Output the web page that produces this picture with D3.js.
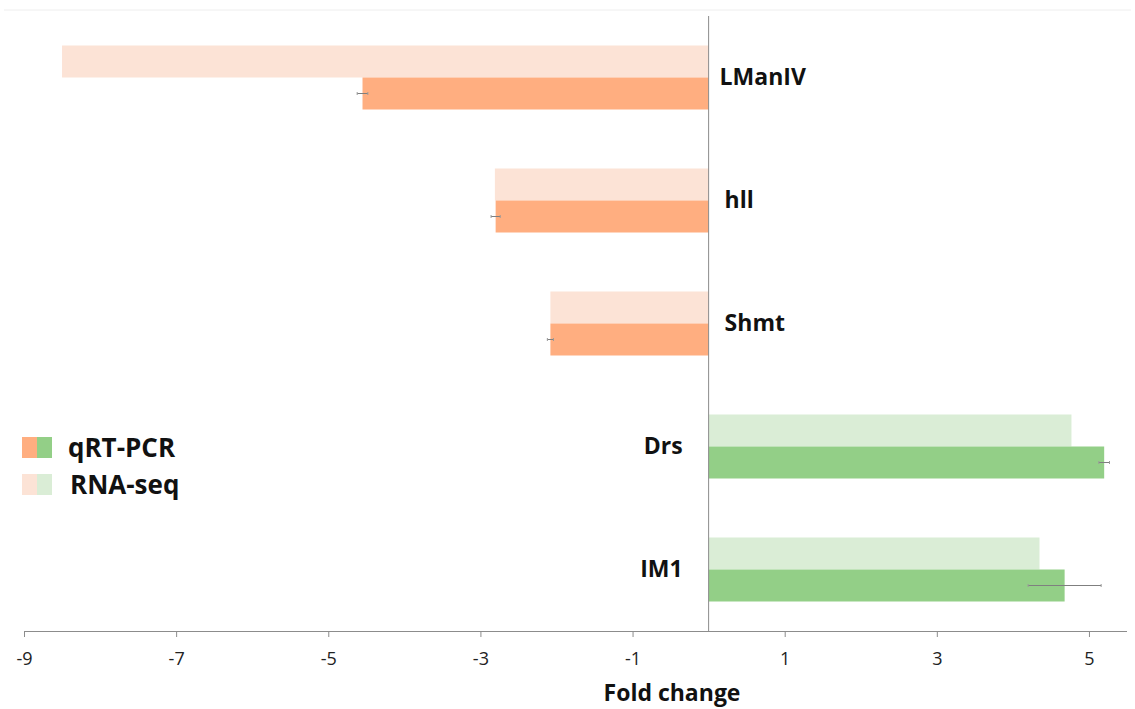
<!DOCTYPE html>
<html>
<head>
<meta charset="utf-8">
<script src="https://cdn.jsdelivr.net/npm/d3@7"></script>
<style>
  html, body { margin: 0; padding: 0; background: #fff; }
  svg { display: block; }
  text { font-family: "Open Sans", "Liberation Sans", sans-serif; }
</style>
</head>
<body>
<svg id="chart" width="1135" height="709"></svg>
<script>
// Genes, top to bottom
const genes = ["LManIV", "hll", "Shmt", "Drs", "IM1"];
// Fold change from RNA-seq
const rnaSeq = [-8.5, -2.81, -2.08, 4.77, 4.35];
// Fold change from qRT-PCR and its error
const qrtPcr = [-4.55, -2.8, -2.08, 5.2, 4.68];
const qrtErr = [0.07, 0.06, 0.04, 0.07, 0.48];
// Axis ticks
const tickValues = [-9, -7, -5, -3, -1, 1, 3, 5];

const colors = {
  downQ: "#FFAE80", downR: "#FCE3D6",
  upQ: "#93CF87", upR: "#DAEDD6"
};

const svg = d3.select("#chart");
const margin = { top: 16, right: 8, bottom: 78, left: 24 };
const W = 1135, H = 709;

const x = d3.scaleLinear().domain([-9, 5.5]).range([margin.left, W - margin.right]);
const y = d3.scaleBand().domain(genes).range([margin.top, H - margin.bottom]).paddingInner(0).paddingOuter(0);
const barH = 32;

// faint frame line at the top
svg.append("line").attr("x1", 4).attr("x2", 1131).attr("y1", 10).attr("y2", 10)
  .attr("stroke", "#eeeeee").attr("stroke-width", 1);

const rows = genes.map((g, i) => ({ g, r: rnaSeq[i], q: qrtPcr[i], e: qrtErr[i] }));

const grp = svg.append("g");
rows.forEach(d => {
  const cy = y(d.g) + y.bandwidth() / 2;
  const up = d.q > 0;
  grp.append("rect")
    .attr("x", Math.min(x(0), x(d.r))).attr("width", Math.abs(x(d.r) - x(0)))
    .attr("y", cy - barH).attr("height", barH)
    .attr("fill", up ? colors.upR : colors.downR);
  grp.append("rect")
    .attr("x", Math.min(x(0), x(d.q))).attr("width", Math.abs(x(d.q) - x(0)))
    .attr("y", cy).attr("height", barH)
    .attr("fill", up ? colors.upQ : colors.downQ);
  // error bar
  const ey = cy + barH / 2;
  grp.append("line")
    .attr("x1", x(d.q - d.e)).attr("x2", x(d.q + d.e))
    .attr("y1", ey).attr("y2", ey)
    .attr("stroke", "#7f7f7f").attr("stroke-width", 1);
  [d.q - d.e, d.q + d.e].forEach(v => {
    grp.append("line")
      .attr("x1", x(v)).attr("x2", x(v))
      .attr("y1", ey - 1.5).attr("y2", ey + 1.5)
      .attr("stroke", "#9a9a9a").attr("stroke-width", 1);
  });
  // gene label on the opposite side of the axis
  grp.append("text")
    .attr("x", up ? x(0) - 26 : x(0) + (d.g === "LManIV" ? 11 : 16))
    .attr("y", cy - 1)
    .attr("dy", "0.36em")
    .attr("text-anchor", up ? "end" : "start")
    .attr("font-size", 23).attr("font-weight", "bold")
    .attr("fill", "#111")
    .text(d.g);
});

// vertical zero line
svg.append("line")
  .attr("x1", x(0)).attr("x2", x(0))
  .attr("y1", margin.top).attr("y2", H - margin.bottom)
  .attr("stroke", "#8c8c8c").attr("stroke-width", 1);

// x axis
const axis = svg.append("g")
  .attr("transform", `translate(0,${H - margin.bottom})`)
  .call(d3.axisBottom(x).tickValues(tickValues).tickSize(6).tickPadding(15).tickFormat(d3.format("d")));
axis.select(".domain").attr("stroke", "#8c8c8c").attr("d", `M${margin.left},0.5H${W - margin.right}`);
axis.selectAll(".tick line").attr("stroke", "#8c8c8c");
axis.selectAll(".tick text")
  .attr("font-size", 18).attr("fill", "#222")
  .text(d => d < 0 ? "-" + Math.abs(d) : d);

svg.append("text")
  .attr("x", 672).attr("y", 701)
  .attr("text-anchor", "middle")
  .attr("font-size", 23).attr("font-weight", "bold").attr("fill", "#111")
  .text("Fold change");

// legend
const legend = [
  { label: "qRT-PCR", a: colors.downQ, b: colors.upQ, y: 437 },
  { label: "RNA-seq", a: colors.downR, b: colors.upR, y: 474 }
];
legend.forEach((l, i) => {
  svg.append("rect").attr("x", 22).attr("y", l.y).attr("width", 15).attr("height", 21).attr("fill", l.a);
  svg.append("rect").attr("x", 37).attr("y", l.y).attr("width", 15).attr("height", 21).attr("fill", l.b);
  svg.append("text")
    .attr("x", i === 0 ? 68 : 70).attr("y", l.y + 10.5).attr("dy", "0.36em")
    .attr("font-size", 26).attr("font-weight", "bold").attr("fill", "#111")
    .text(l.label);
});
</script>
</body>
</html>
